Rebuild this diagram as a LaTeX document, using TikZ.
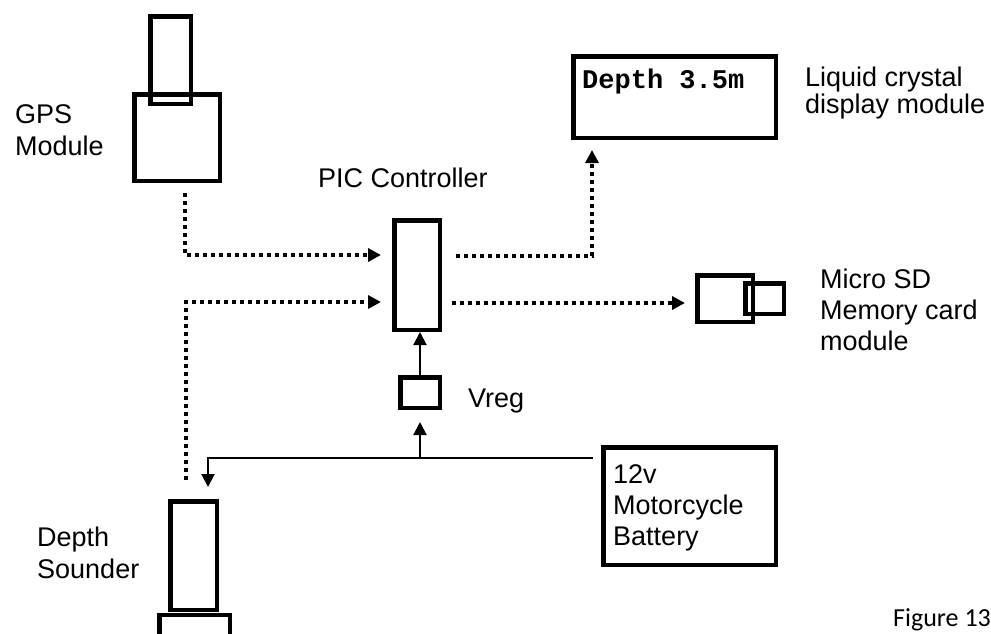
\documentclass[tikz,border=0pt]{standalone}
\usepackage{fontspec}
\setmainfont{Liberation Sans}
\newfontfamily\lcdfont{Liberation Mono}
\newfontfamily\figfont{Carlito}
\usetikzlibrary{arrows.meta}

\begin{document}
\begin{tikzpicture}[x=1pt,y=-1pt, box/.style={draw,line width=4.5pt,inner sep=0pt}, sig/.style={line width=3.5pt,dash pattern=on 4pt off 4pt,-{Triangle[length=13pt,width=13pt]}}, pwr/.style={line width=2pt,-{Triangle[length=13pt,width=13pt]}}, lbl/.style={font=\fontsize{27}{31}\selectfont,align=left,inner sep=0pt,anchor=base west}]
\useasboundingbox (0,0) rectangle (991,633);
% boxes
\node[box,minimum width=85.5pt,minimum height=86.5pt] (gps) at (177,137.5) {};
\node[box,minimum width=40.5pt,minimum height=87.5pt] (gpsant) at (170.5,60) {};
\node[box,minimum width=45.5pt,minimum height=109.5pt] (pic) at (417,275) {};
\node[box,minimum width=202.5pt,minimum height=81.5pt] (lcd) at (674.5,97) {};
\node[box,minimum width=55.5pt,minimum height=46.5pt] (sd) at (725,298.5) {};
\node[box,minimum width=38.5pt,minimum height=30.5pt] (sdcard) at (764.5,298.5) {};
\node[box,minimum width=39.5pt,minimum height=30.5pt] (vreg) at (420,392.5) {};
\node[box,minimum width=172.5pt,minimum height=117.5pt] (bat) at (689.5,506) {};
\node[box,minimum width=46.5pt,minimum height=108.5pt] (snd) at (193.5,555.5) {};
\node[box,minimum width=70.5pt,minimum height=30pt] (sndbase) at (194.5,630) {};
% texts (base = last line)
\node[lbl,font=\fontsize{27}{32}\selectfont] (gpslbl) at (15,155) {GPS\\Module};
\node[lbl] (piclbl) at (318,187) {PIC Controller};
\node[lbl,font=\fontsize{27}{27}\selectfont] (lcdlbl) at (805,113) {Liquid crystal\\display module};
\node[lbl,font=\lcdfont\bfseries\fontsize{27}{31}\selectfont] (lcdtxt) at (582,88) {Depth 3.5m};
\node[lbl] (sdlbl) at (820,350) {Micro SD\\Memory card\\module};
\node[lbl] (vreglbl) at (468,407) {Vreg};
\node[lbl] (batlbl) at (613,545) {12v\\Motorcycle\\Battery};
\node[lbl,font=\fontsize{27}{32}\selectfont] (sndlbl) at (37,578) {Depth\\Sounder};
\node[lbl,font=\figfont\fontsize{26}{31}\selectfont] (fig) at (893,626) {Figure 13};
% links
\draw[sig,shorten <=10pt,shorten >=11pt] ([xshift=8pt]gps.south) |- ([yshift=20pt]pic.west);
\draw[sig,shorten <=19pt,shorten >=11pt] ([xshift=-7.5pt]snd.north) |- ([yshift=-27pt]pic.west);
\draw[sig,shorten <=14pt,shorten >=10pt] ([yshift=19pt]pic.east) -| ([xshift=-82.5pt]lcd.south);
\draw[sig,shorten <=10pt,shorten >=10pt] ([yshift=-28pt]pic.east) -- ([yshift=-28pt]pic.east -| sd.west);
\draw[pwr] (vreg.north) -- (vreg.north |- pic.south);
\draw[pwr,shorten <=8pt,shorten >=12pt] ([yshift=48pt]bat.west) coordinate (feed) -| ([xshift=14.5pt]snd.north);
\coordinate (tap) at (vreg.south |- feed);
\draw[pwr,shorten >=12pt] (tap) -- (vreg.south);
\end{tikzpicture}
\end{document}
